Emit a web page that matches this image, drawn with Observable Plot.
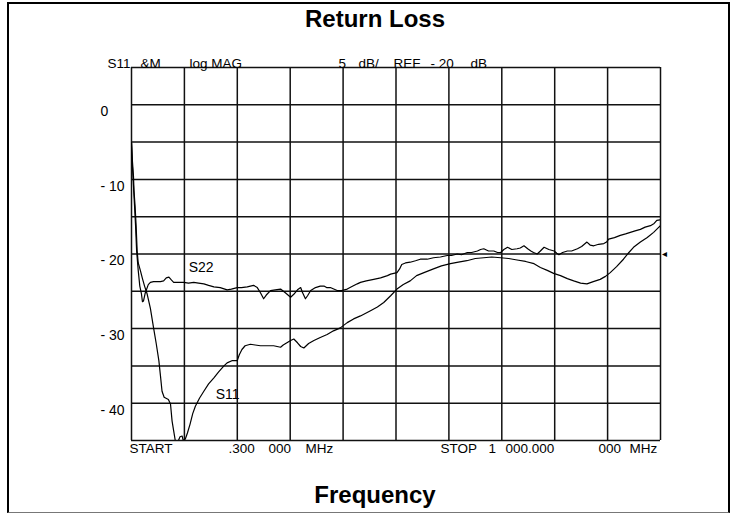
<!DOCTYPE html>
<html><head><meta charset="utf-8">
<script src="https://cdn.jsdelivr.net/npm/d3@7"></script>
<script src="https://cdn.jsdelivr.net/npm/@observablehq/plot@0.6"></script>
<style>
body{margin:0;background:#fff;width:731px;height:514px;overflow:hidden;position:relative;font-family:"Liberation Sans",Arial,sans-serif;}
#frame{position:absolute;left:7px;top:2px;width:723px;height:511px;box-sizing:border-box;border:2px solid #000;border-bottom:1px solid #777;}
.title{position:absolute;left:0;width:750px;text-align:center;font-weight:bold;font-size:24px;line-height:26px;color:#000;}
#chart{position:absolute;left:0;top:40px;}
#chart svg text{white-space:pre;}
</style></head><body>
<div id="frame"></div>
<div class="title" style="top:6px">Return Loss</div>
<div id="chart"></div>
<div class="title" style="top:482px">Frequency</div>
<script>
// Sweep settings (MHz) and display scale (dB)
const startMHz = 0.3;
const stopMHz = 1000;
const xDivisions = 10;
const yGridDb = [5, 0, -5, -10, -15, -20, -25, -30, -35, -40, -45];
const yLabelDb = [0, -10, -20, -30, -40];
const refLevelDb = -20;

// Analyzer annotation words
const headerWords = ["S11", "&M", "log MAG", "5", "dB/", "REF", "- 20", "dB"];
const footerWords = ["START", ".300", "000", "MHz", "STOP", "1", "000.000", "000", "MHz"];

// S11 trace (frequency MHz, dB)
const s11Freq = [0.3,2,4,5,7,9,11,13,17,21,25,30,36,42,47,52,55,58,62,70,74,77,80,83,86,89,92,96,98,102,106,111,116,121,129,137,146,156,165,175,181,190,200,204,209,215,225,234,244,257,269,282,287,294,301,307,314,320,326,335,345,357,370,382,395,408,420,433,452,465,477,490,502,514,527,539,553,571,586,603,618,634,650,666,681,698,713,729,745,761,773,786,798,811,824,836,849,861,873,886,896,905,917,930,939,949,962,975,987,997,1000];
const s11Db = [-5.1,-7.5,-9.5,-11.5,-13.5,-16.2,-19.6,-21.2,-22.2,-23.3,-24.3,-25.4,-27.3,-29.9,-32.0,-34.3,-36.3,-38.4,-39.2,-39.5,-40.1,-42.4,-43.7,-45.0,-45.0,-45.0,-44.5,-44.4,-45.0,-44.8,-44.0,-42.8,-41.4,-40.4,-39.3,-38.4,-37.4,-36.6,-35.8,-35.0,-34.6,-34.3,-34.3,-33.5,-32.8,-32.3,-32.1,-32.2,-32.3,-32.3,-32.3,-32.5,-32.2,-31.9,-31.6,-31.4,-31.9,-32.4,-32.6,-32.0,-31.6,-31.2,-30.8,-30.3,-29.9,-29.2,-28.7,-28.3,-27.6,-27.1,-26.5,-25.6,-24.7,-24.1,-23.6,-22.9,-22.5,-22.0,-21.6,-21.3,-21.1,-20.9,-20.6,-20.5,-20.4,-20.5,-20.6,-20.8,-21.0,-21.3,-21.8,-22.2,-22.6,-22.9,-23.3,-23.6,-23.9,-24.0,-23.7,-23.4,-23.0,-22.5,-21.7,-20.7,-19.9,-19.1,-18.4,-17.8,-17.1,-16.4,-16.2];

// S22 trace (frequency MHz, dB)
const s22Freq = [0.3,2,4,6,8,10,13,16,19,21,23,26,28,32,36,42,49,55,61,66,71,76,80,90,99,108,118,127,137,146,156,168,181,189,200,208,219,231,238,244,250,255,263,272,282,291,301,307,314,320,323,329,333,339,348,357,364,369,376,389,397,408,416,427,433,444,458,471,484,490,502,507,511,518,527,537,546,559,571,584,597,605,616,624,635,643,654,660,666,675,685,692,698,704,711,719,729,735,742,749,755,760,767,773,780,789,799,804,808,815,824,832,843,851,861,867,874,883,893,898,902,913,924,934,943,952,962,971,981,988,993,1000];
const s22Db = [-5.1,-8.2,-10.8,-13.5,-16.2,-19.6,-22.2,-24.3,-25.3,-26.4,-26.3,-25.3,-24.9,-24.1,-23.8,-23.7,-23.7,-23.7,-23.6,-23.2,-23.1,-23.5,-23.8,-23.8,-23.8,-23.9,-23.8,-23.9,-24.0,-24.2,-24.4,-24.5,-24.8,-24.7,-24.5,-24.5,-24.4,-24.2,-24.5,-25.2,-26.0,-25.5,-24.9,-24.8,-24.7,-25.2,-25.8,-25.4,-24.8,-24.5,-25.1,-26.0,-25.6,-24.9,-24.5,-24.3,-24.3,-24.5,-24.5,-24.9,-24.9,-24.7,-24.4,-24.0,-23.8,-23.6,-23.4,-23.2,-22.9,-22.7,-22.5,-22.0,-21.4,-21.2,-21.1,-20.9,-20.7,-20.7,-20.5,-20.4,-20.2,-20.2,-20.0,-20.1,-19.8,-19.8,-19.6,-19.4,-19.3,-19.6,-19.6,-19.8,-19.8,-19.4,-19.1,-19.4,-19.3,-19.2,-18.9,-19.3,-19.6,-19.8,-20.0,-19.6,-19.1,-19.4,-19.6,-19.9,-20.1,-19.8,-19.6,-19.6,-19.3,-19.0,-18.4,-18.8,-18.9,-18.7,-18.6,-18.4,-18.0,-17.8,-17.5,-17.3,-17.1,-16.9,-16.7,-16.4,-16.2,-15.9,-15.5,-15.4];

// Trace labels
const traceLabels = ["S22", "S11"];
const traceLabelFreq = [132, 182];
const traceLabelDb = [-21.8, -38.8];

const s11 = s11Freq.map((f, i) => ({f, db: s11Db[i]}));
const s22 = s22Freq.map((f, i) => ({f, db: s22Db[i]}));
const labels = traceLabels.map((t, i) => ({t, f: traceLabelFreq[i], db: traceLabelDb[i]}));
const xGrid = d3.range(xDivisions + 1).map(k => startMHz + k * (stopMHz - startMHz) / xDivisions);
const fmt = d => d === 0 ? "0" : "- " + Math.abs(d);

// offsets (px) of each annotation word from the grid's left edge
const headerDx = [-24, 9, 58, 207, 227, 262, 299, 339];
const footerDx = [-2, 97, 137, 174, 309, 357, 374, 467, 498];
const txt = {fontSize: 13.5, fill: "#000", textAnchor: "start"};

const chart = Plot.plot({
  width: 731,
  height: 440,
  marginLeft: 131,
  marginRight: 71,
  marginTop: 27,
  marginBottom: 40,
  style: {fontFamily: "'Liberation Sans', Arial, sans-serif", background: "transparent", color: "#000"},
  x: {domain: [startMHz, stopMHz], axis: null},
  y: {domain: [-45, 5], axis: null},
  marks: [
    Plot.ruleX(xGrid, {stroke: "#111", strokeWidth: 1.5}),
    Plot.ruleY(yGridDb, {stroke: "#111", strokeWidth: 1.5}),
    Plot.line(s22, {x: "f", y: "db", stroke: "#000", strokeWidth: 1.2, clip: true}),
    Plot.line(s11, {x: "f", y: "db", stroke: "#000", strokeWidth: 1.2, clip: true}),
    Plot.text(labels, {x: "f", y: "db", text: "t", fontSize: 14, fill: "#000"}),
    Plot.text(yLabelDb, {y: d => d, text: fmt, frameAnchor: "left", textAnchor: "start", dx: -31, dy: 7, fontSize: 14, fill: "#000"}),
    ...headerWords.map((w, i) => Plot.text([w], {...txt, text: d => d, frameAnchor: "top-left", dx: headerDx[i], dy: -9})),
    ...footerWords.map((w, i) => Plot.text([w], {...txt, text: d => d, frameAnchor: "bottom-left", dx: footerDx[i], dy: 12})),
    Plot.text([refLevelDb], {y: d => d, text: () => "◂", frameAnchor: "right", textAnchor: "start", dx: 1, fontSize: 10, fill: "#000"})
  ]
});
document.getElementById("chart").appendChild(chart);
</script></body></html>
